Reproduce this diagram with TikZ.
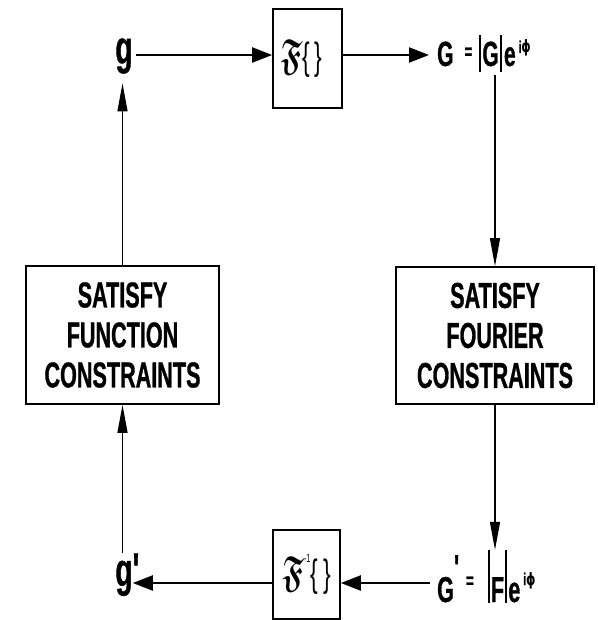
\documentclass[tikz,border=0pt]{standalone}
\usepackage{fontspec}
\usepackage{amssymb}
\usepackage{graphicx}
\usetikzlibrary{arrows.meta}
\newfontfamily\lab[FakeStretch=0.6,BoldFeatures={FakeBold=0.8}]{Liberation Sans}
\newfontfamily\dvs[FakeStretch=0.7]{DejaVu Sans}
\newcommand\fsz[1]{\fontsize{#1}{#1}\selectfont}
\newcommand\frakF{\fsz{20.74}\scalebox{1.45}[2.1]{\boldmath$\mathfrak{F}$}}
\newcommand\braces{{\lab\fsz{38}\{\hspace{5pt}\}}}
\begin{document}
\begin{tikzpicture}[x=1pt,y=-1pt,
  box/.style={draw,line width=1.7pt,inner sep=0pt,align=center},
  lbl/.style={inner sep=0pt},
  bigtext/.style={font=\lab\bfseries\fontsize{36}{40}\selectfont},
  harrow/.style={line width=2.2pt,-{Triangle[length=20pt,width=15pt]}},
  varrow/.style={line width=1.2pt,-{Triangle[length=28pt,width=10pt]}}]
\useasboundingbox (0,0) rectangle (597,620);
\coordinate (toprow) at (0,55);
\coordinate (botrow) at (0,583);

% top row
\node[lbl,font=\lab\bfseries\fsz{47}] (g) at (124,56) {g};
\node[box,minimum width=69pt,minimum height=99pt] (F1) at (307.5,58.5)
  {\frakF\braces\hspace{12pt}};
\node[lbl,anchor=base west,font=\lab\bfseries\fsz{35}] (G) at (437,66)
  {G\hspace{11pt}\raisebox{7pt}{\fsz{22}=}\hspace{7pt}\rule[-6pt]{2.2pt}{37pt}\hspace{1pt}G\hspace{1pt}\rule[-6pt]{2.2pt}{37pt}\hspace{2pt}e\hspace{3pt}\raisebox{13pt}{\fsz{17}i\dvs ϕ}};

% boxes
\node[box,bigtext,minimum width=193pt,minimum height=138pt] (LB) at (122.5,335)
  {SATISFY\\FUNCTION\\CONSTRAINTS};
\node[box,bigtext,minimum width=198pt,minimum height=137pt] (RB) at (495,335.5)
  {SATISFY\\FOURIER\\CONSTRAINTS};

% bottom row
\node[lbl,anchor=base,font=\lab\bfseries\fsz{47}] (gp) at (124,586) {g\rlap{\textquotesingle}};
\node[box,minimum width=67pt,minimum height=89pt] (F2) at (306.5,574.5)
  {\frakF\raisebox{24pt}{\lab\fsz{12}-1}\braces};
\node[lbl,anchor=base west,font=\lab\bfseries\fsz{36}] (Gp) at (437,602)
  {G\rlap{\raisebox{22pt}{\textquotesingle}}\hspace{12pt}\raisebox{14pt}{\fsz{22}=}\hspace{14pt}\rule[-1pt]{2.2pt}{53pt}\hspace{1pt}F\hspace{1pt}\rule[-1pt]{2.2pt}{53pt}\hspace{1pt}e\hspace{3pt}\raisebox{17pt}{\fsz{17}i\dvs ϕ}};

% connectors
\draw[harrow,shorten <=3pt] (g.east |- toprow) -- (F1.west |- toprow);
\draw[harrow,shorten >=8pt] (F1.east |- toprow) -- (G.west |- toprow);
\draw[varrow,shorten <=3pt] (RB.north |- G.south) -- (RB.north);
\draw[varrow] (RB.south) -- (RB.south |- Gp.north);
\draw[harrow,shorten <=7pt] (Gp.west |- botrow) -- (F2.east |- botrow);
\draw[harrow] (F2.west |- botrow) -- (gp.east |- botrow);
\draw[varrow] (LB.south |- gp.north) -- (LB.south);
\draw[varrow,shorten >=9.5pt] (LB.north) -- (LB.north |- g.south);
\end{tikzpicture}
\end{document}
